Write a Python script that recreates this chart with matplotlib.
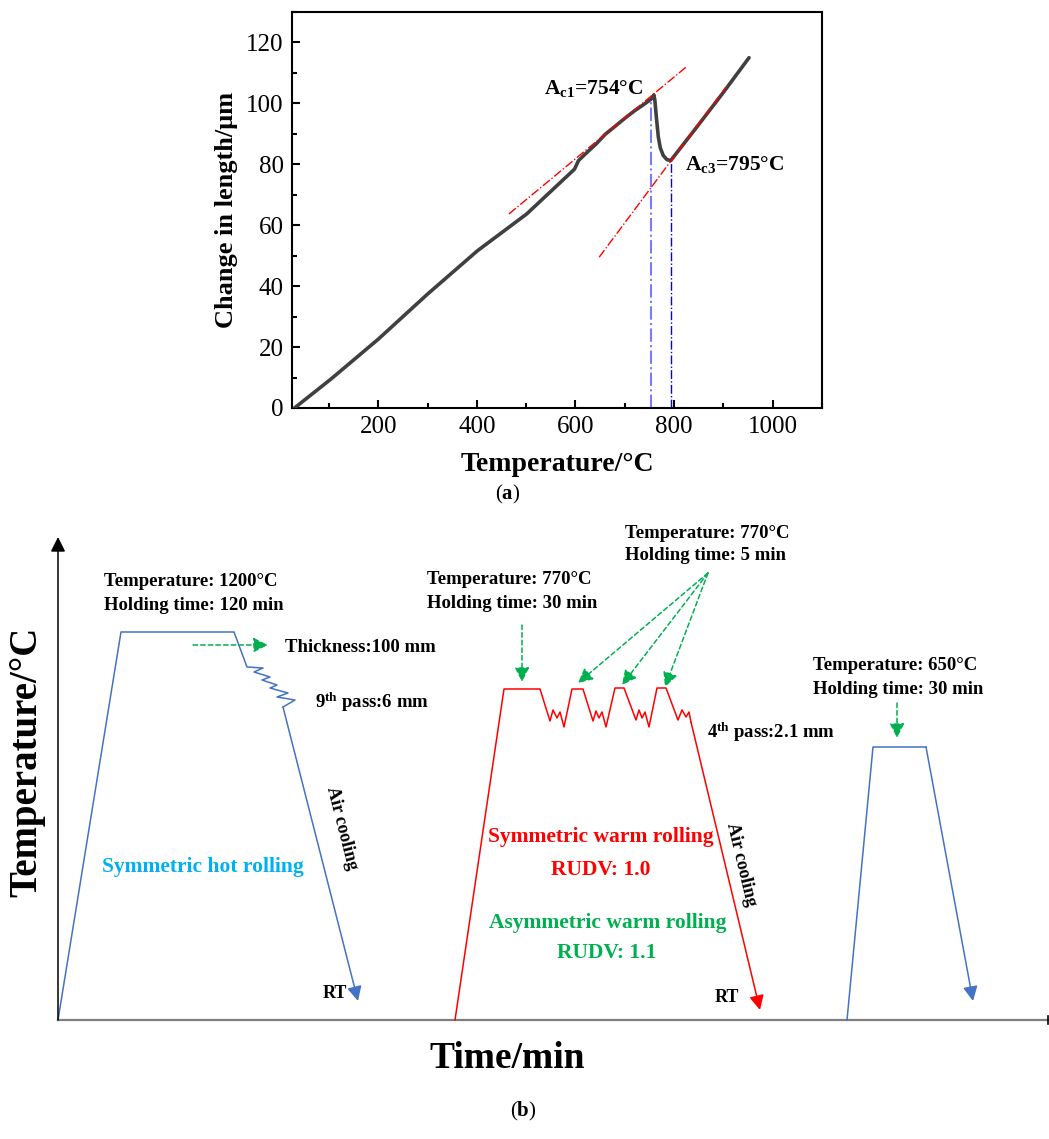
import matplotlib
matplotlib.use("Agg")
import matplotlib.pyplot as plt
from matplotlib.ticker import MultipleLocator

plt.rcParams['font.family'] = ['Liberation Serif', 'DejaVu Serif']
plt.rcParams['mathtext.fontset'] = 'custom'
plt.rcParams['mathtext.rm'] = 'Liberation Serif:bold'
plt.rcParams['mathtext.bf'] = 'Liberation Serif:bold'
plt.rcParams['mathtext.default'] = 'bf'

# ---- (a) dilatometric curve ----
temp_c = [30, 104, 200, 300, 401, 501, 598, 606, 620, 642, 660, 682, 700, 720, 740, 755, 759,
          761, 764, 768, 772, 778, 785, 793, 843, 899, 952]
dl_um = [0, 9.5, 22.6, 37.4, 51.6, 63.7, 78.4, 81.2, 83.4, 86.7, 89.8, 92.7, 95.1, 97.6, 99.8,
         101.6, 102.8, 101.0, 95.5, 89.0, 85.4, 82.9, 81.6, 81.2, 91.6, 103.4, 115.0]

tangent1_t = [465, 825]
tangent1_v = [63.7, 112.0]
tangent2_t = [648, 905]
tangent2_v = [49.5, 105.3]

ac1_t, ac1_v = 754, 101.8
ac3_t, ac3_v = 793, 81.2

# ---- (b) process schematic (time / temperature in drawing units) ----
hot_t = [58, 121, 234, 247, 263, 254, 270, 262, 277, 270, 288, 277, 295, 283]
hot_T = [0, 388, 388, 353, 352, 348, 343, 340, 335, 332, 327, 323, 320, 313]
hot_end = (358, 19)

warm_t = [455, 504, 540, 550, 553, 557, 560, 564, 572, 583, 593, 596, 599, 602, 606,
          615, 624, 636, 639, 642, 645, 649, 657, 666, 678, 682, 686, 689, 691]
warm_T = [0, 331, 331, 299, 310, 302, 308, 293, 331, 331, 299, 309, 302, 308, 293,
          332, 332, 300, 310, 302, 308, 293, 332, 332, 300, 310, 303, 308, 298]
warm_end = (760, 10)

temper_t = [847, 873, 926]
temper_T = [0, 273, 273]
temper_end = (973, 19)

fig = plt.figure(figsize=(10.49, 11.39), dpi=100)

# top panel
ax = fig.add_axes([292/1049, 1-408/1139, 530/1049, 396/1139])
ax.plot(temp_c, dl_um, color='#404040', lw=2.6, solid_capstyle='round',
        solid_joinstyle='round', zorder=3)
ax.plot(tangent1_t, tangent1_v, color='red', ls='-.', lw=1.0, zorder=4)
ax.plot(tangent2_t, tangent2_v, color='red', ls='-.', lw=1.0, zorder=4)
ax.plot([ac1_t, ac1_t], [0, ac1_v], color='#7a7aff', ls='-.', lw=1.5, zorder=2)
ax.plot([ac3_t, ac3_t], [0, ac3_v], color='blue', ls='-.', lw=1.0, zorder=2)
ax.text(536, 105, 'A$_{c1}$=754°C', fontsize=15.5, fontweight='bold', va='center')
ax.text(822, 79.8, 'A$_{c3}$=795°C', fontsize=15.5, fontweight='bold', va='center')

ax.set_xlim(25, 1100)
ax.set_ylim(0, 130)
ax.xaxis.set_major_locator(MultipleLocator(200))
ax.xaxis.set_minor_locator(MultipleLocator(100))
ax.yaxis.set_major_locator(MultipleLocator(20))
ax.yaxis.set_minor_locator(MultipleLocator(10))
ax.tick_params(which='both', direction='in', top=False, right=False, width=1.5)
ax.tick_params(which='major', length=6, labelsize=18, pad=6)
ax.tick_params(which='minor', length=3.5)
for s in ax.spines.values():
    s.set_linewidth(1.5)
ax.set_xlabel('Temperature/°C', fontsize=20, fontweight='bold', labelpad=10)
ax.set_ylabel('Change in length/μm', fontsize=19, fontweight='bold', labelpad=6)
fig.text(508/1049, 1-494/1139, '($a$)', fontsize=15, ha='center', va='center')

# bottom panel, drawn in pixel-like units
panel_h = 640
bx = fig.add_axes([0, 0, 1, panel_h/1139])
bx.set_xlim(0, 1049)
bx.set_ylim(-119, panel_h-119)
bx.axis('off')

blue = '#4472C4'
green = '#00B050'
red = '#FF0000'

# axes of schematic
bx.plot([58, 1048], [0, 0], color='#7f7f7f', lw=1.6)
bx.plot([1048, 1048], [-4, 4], color='black', lw=1.2)
bx.annotate('', xy=(58, 483), xytext=(58, 0),
            arrowprops=dict(arrowstyle='-|>', color='black', lw=1.1,
                            mutation_scale=22, shrinkA=0, shrinkB=0))


def profile(t, T, end, color):
    bx.plot(t, T, color=color, lw=1.1)
    bx.annotate('', xy=end, xytext=(t[-1], T[-1]),
                arrowprops=dict(arrowstyle='-|>', color=color, lw=1.1,
                                mutation_scale=22, shrinkA=0, shrinkB=0))


profile(hot_t, hot_T, hot_end, blue)
profile(warm_t, warm_T, warm_end, red)
profile(temper_t, temper_T, temper_end, blue)


def garrow(start, end):
    bx.annotate('', xy=end, xytext=start,
                arrowprops=dict(arrowstyle='-|>', color=green, lw=1.1, ls=(0, (3, 2)),
                                mutation_scale=22, shrinkA=0, shrinkB=0))


garrow((193, 375), (268, 375))
garrow((522, 395), (522, 338))
garrow((708, 447), (578, 337))
garrow((708, 447), (622, 335))
garrow((708, 447), (665, 333))
garrow((897, 317), (897, 282))

tk = dict(fontsize=13.5, fontweight='bold', va='center', ha='left')
bx.text(104, 1020-582, 'Temperature: 1200°C', **tk)
bx.text(104, 1020-606, 'Holding time: 120 min', **tk)
bx.text(285, 1020-647, 'Thickness:100 mm', **tk)
bx.text(315, 1020-702, '9$^{th}$ pass:6 mm', **tk)
bx.text(427, 1020-580, 'Temperature: 770°C', **tk)
bx.text(427, 1020-603, 'Holding time: 30 min', **tk)
bx.text(625, 1020-533, 'Temperature: 770°C', **tk)
bx.text(625, 1020-556, 'Holding time: 5 min', **tk)
bx.text(707, 1020-732, '4$^{th}$ pass:2.1 mm', **tk)
bx.text(813, 1020-666, 'Temperature: 650°C', **tk)
bx.text(813, 1020-689, 'Holding time: 30 min', **tk)
bx.text(335, 1020-993, 'RT', fontsize=13, fontweight='bold', ha='center', va='center')
bx.text(727, 1020-998, 'RT', fontsize=13, fontweight='bold', ha='center', va='center')
bx.text(342, 1020-828, 'Air cooling', fontsize=13, fontweight='bold', rotation=-75.7,
        ha='center', va='center', rotation_mode='anchor')
bx.text(741, 1020-864, 'Air cooling', fontsize=13, fontweight='bold', rotation=-76.6,
        ha='center', va='center', rotation_mode='anchor')

ck = dict(fontsize=15.5, fontweight='bold', ha='center', va='center')
bx.text(203, 1020-867, 'Symmetric hot rolling', color='#00B0F0', **ck)
bx.text(601, 1020-837, 'Symmetric warm rolling', color=red, **ck)
bx.text(601, 1020-870, 'RUDV: 1.0', color=red, **ck)
bx.text(608, 1020-923, 'Asymmetric warm rolling', color=green, **ck)
bx.text(607, 1020-953, 'RUDV: 1.1', color=green, **ck)

bx.text(27, 1020-762, 'Temperature/°C', fontsize=28, fontweight='bold', rotation=90,
        ha='center', va='center')
bx.text(507, 1020-1058, 'Time/min', fontsize=27, fontweight='bold', ha='center', va='center')
bx.text(523, 1020-1111, '($b$)', fontsize=15, ha='center', va='center')

fig.savefig('out.png', dpi=100)
